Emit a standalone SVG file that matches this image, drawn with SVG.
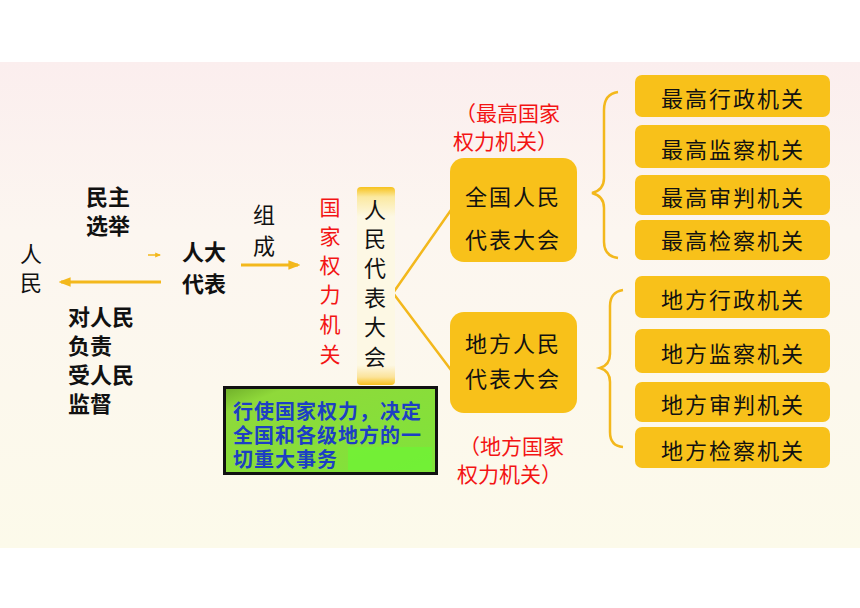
<svg xmlns="http://www.w3.org/2000/svg" width="860" height="608" viewBox="0 0 860 608">
<defs>
<linearGradient id="bg" x1="0" y1="0" x2="0" y2="1">
<stop offset="0" stop-color="#fbeeee"/>
<stop offset="0.35" stop-color="#fcf6f0"/>
<stop offset="1" stop-color="#fcfaea"/>
</linearGradient>
<linearGradient id="col" x1="0" y1="0" x2="0" y2="1">
<stop offset="0" stop-color="#f7c21c"/>
<stop offset="0.05" stop-color="#fbe9a0"/>
<stop offset="0.15" stop-color="#fdf8e4"/>
<stop offset="0.9" stop-color="#fdf8e4"/>
<stop offset="0.96" stop-color="#fbe39a"/>
<stop offset="1" stop-color="#f7c21c"/>
</linearGradient>
<linearGradient id="grn" x1="0" y1="0" x2="1" y2="1">
<stop offset="0" stop-color="#6fae2a"/>
<stop offset="0.15" stop-color="#8fd93a"/>
<stop offset="1" stop-color="#7fe43a"/>
</linearGradient>
<marker id="ah" viewBox="0 0 10 10" refX="8" refY="5" markerWidth="4" markerHeight="4" orient="auto-start-reverse">
<path d="M0,1 L10,5 L0,9 z" fill="#f3b81c"/>
</marker>
</defs>
<style>
text{font-family:"Noto Sans CJK SC","Noto Sans CJK JP",sans-serif;dominant-baseline:central}
.k{fill:#111;font-size:22px}
.b{font-weight:bold}
.r{fill:#f31414;font-size:21px}
.m{text-anchor:middle}
.box{fill:#f8c11a}
.ln{stroke:#f3b81c;fill:none}
.bt{fill:#111;font-size:22px;text-anchor:middle;letter-spacing:2px}
.g{font-size:20px;font-weight:bold;fill:#1d3fc4;letter-spacing:1px}
</style>
<rect x="0" y="0" width="860" height="608" fill="#ffffff"/>
<rect x="0" y="62" width="860" height="486" fill="url(#bg)"/>

<g id="connectors">
<line class="ln" x1="148" y1="255" x2="160" y2="255" stroke-width="1.5" marker-end="url(#ah)"/>
<line class="ln" x1="161" y1="282" x2="61" y2="282" stroke-width="3" marker-end="url(#ah)"/>
<line class="ln" x1="241" y1="265" x2="298" y2="265" stroke-width="3" marker-end="url(#ah)"/>
<polyline class="ln" points="451,210 393,293 451,370" stroke-width="2.5"/>
<path class="ln" stroke-width="2.5" d="M618,92 Q604,94 604,110 L604,178 Q604,190 592,193 Q604,196 604,208 L604,242 Q604,256 618,258"/>
<path class="ln" stroke-width="2.5" d="M623,290 Q610,292 610,306 L610,354 Q610,365 600,368 Q610,371 610,382 L610,432 Q610,446 623,447"/>
</g>

<g id="people">
<text class="k m" x="31" y="252" font-size="20">人</text>
<text class="k m" x="31" y="281" font-size="20">民</text>
</g>

<g id="election">
<text class="k b m" x="108" y="195">民主</text>
<text class="k b m" x="108" y="224">选举</text>
</g>

<g id="responsible">
<text class="k b" x="68" y="315">对人民</text>
<text class="k b" x="68" y="344">负责</text>
<text class="k b" x="68" y="373">受人民</text>
<text class="k b" x="68" y="402">监督</text>
</g>

<g id="deputies">
<text class="k b m" x="204" y="250" font-size="23">人大</text>
<text class="k b m" x="204" y="282" font-size="23">代表</text>
</g>

<g id="compose">
<text class="k m" x="264" y="213" font-size="21">组</text>
<text class="k m" x="264" y="244" font-size="21">成</text>
</g>

<g id="state-power">
<text class="r m" x="330" y="206" font-size="22">国</text>
<text class="r m" x="330" y="235" font-size="22">家</text>
<text class="r m" x="330" y="264" font-size="22">权</text>
<text class="r m" x="330" y="293" font-size="22">力</text>
<text class="r m" x="330" y="323" font-size="22">机</text>
<text class="r m" x="330" y="353" font-size="22">关</text>
</g>

<g id="congress">
<rect x="357" y="187" width="38" height="198" rx="4" fill="url(#col)"/>
<text class="k m" x="375" y="208">人</text>
<text class="k m" x="375" y="237">民</text>
<text class="k m" x="375" y="266">代</text>
<text class="k m" x="375" y="296">表</text>
<text class="k m" x="375" y="325">大</text>
<text class="k m" x="375" y="355">会</text>
</g>

<g id="duty">
<rect x="224.5" y="387.5" width="212" height="86" fill="url(#grn)" stroke="#111" stroke-width="3"/>
<rect x="348" y="447" width="84" height="23" fill="#6cf534" opacity="0.7"/>
<text class="g" x="233" y="410"><tspan x="233" y="410">行使国家权力，决定</tspan><tspan x="233" y="434">全国和各级地方的一</tspan><tspan x="233" y="458">切重大事务</tspan></text>
</g>

<g id="npc">
<rect class="box" x="450" y="158" width="127" height="104" rx="14"/>
<text class="bt" x="513" y="195">全国人民</text>
<text class="bt" x="513" y="238">代表大会</text>
</g>

<g id="npc-label">
<text class="r" x="455" y="112">（最高国家</text>
<text class="r" x="453" y="140">权力机关）</text>
</g>

<g id="local">
<rect class="box" x="450" y="312" width="127" height="101" rx="14"/>
<text class="bt" x="513" y="342">地方人民</text>
<text class="bt" x="513" y="377">代表大会</text>
</g>

<g id="local-label">
<text class="r" x="459" y="445">（地方国家</text>
<text class="r" x="457" y="473">权力机关）</text>
</g>

<g id="organs">
<rect class="box" x="635" y="75" width="195" height="42" rx="7"/>
<text class="bt" x="733" y="97">最高行政机关</text>
<rect class="box" x="635" y="125" width="195" height="43" rx="7"/>
<text class="bt" x="733" y="148">最高监察机关</text>
<rect class="box" x="635" y="175" width="195" height="40" rx="7"/>
<text class="bt" x="733" y="196">最高审判机关</text>
<rect class="box" x="635" y="220" width="195" height="40" rx="7"/>
<text class="bt" x="733" y="239">最高检察机关</text>
<rect class="box" x="635" y="276" width="195" height="42" rx="7"/>
<text class="bt" x="733" y="298">地方行政机关</text>
<rect class="box" x="635" y="329" width="195" height="44" rx="7"/>
<text class="bt" x="733" y="352">地方监察机关</text>
<rect class="box" x="635" y="382" width="195" height="40" rx="7"/>
<text class="bt" x="733" y="403">地方审判机关</text>
<rect class="box" x="635" y="427" width="195" height="41" rx="7"/>
<text class="bt" x="733" y="449">地方检察机关</text>
</g>
</svg>
